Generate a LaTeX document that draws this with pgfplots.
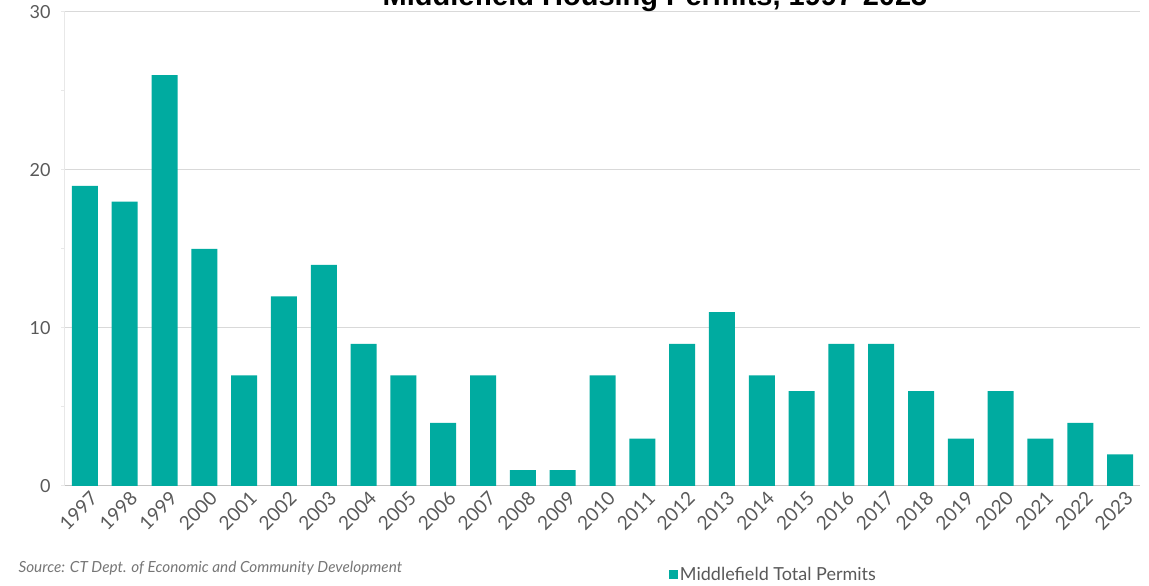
\documentclass[border=0pt]{standalone}
\usepackage{pgfplots}
\pgfplotsset{compat=1.18}
\usepackage{fontspec}
\setmainfont{Lato}
\newfontfamily\titlefont{Liberation Sans}
\definecolor{barc}{RGB}{0,171,160}
\definecolor{tickc}{RGB}{89,89,89}
\definecolor{gridc}{RGB}{217,217,217}
\definecolor{srcc}{RGB}{118,118,118}
\begin{document}
\begin{tikzpicture}[x=1pt,y=1pt]
\useasboundingbox (0,0) rectangle (1149,586);
\begin{axis}[
  at={(65pt,100pt)}, anchor=south west,
  scale only axis, width=1075pt, height=474pt,
  xmin=-0.5, xmax=26.5, ymin=0, ymax=30,
  axis x line*=bottom, axis y line*=left,
  x axis line style={draw=gridc!90!black, line width=1pt, -},
  y axis line style={draw=gridc!60, line width=1pt, -},
  ytick={0,10,20,30}, minor ytick={5,15,25},
  ymajorgrids, grid style={draw=gridc, line width=1pt},
  tick align=outside, major tick length=4pt, minor tick length=4pt,
  ytick style={draw=gridc!60, line width=1pt},
  xtick={0,...,26},
  xticklabels={1997,1998,1999,2000,2001,2002,2003,2004,2005,2006,2007,2008,2009,2010,2011,2012,2013,2014,2015,2016,2017,2018,2019,2020,2021,2022,2023},
  xtick style={draw=none},
  xticklabel style={rotate=45, anchor=north east, font=\fontsize{19}{19}\selectfont, text=tickc, inner sep=2pt, xshift=5pt, yshift=-1pt},
  yticklabel style={font=\fontsize{18}{18}\selectfont, text=tickc, xshift=-7pt},
  /pgf/number format/assume math mode=true,
  ybar, bar width=26pt,
  legend style={at={(0.659,-0.186)}, anchor=center, draw=none, fill=none, font=\fontsize{18}{18}\selectfont, text=tickc, inner sep=0pt},
  legend image code/.code={\fill[barc] (-3pt,-4.5pt) rectangle (6pt,4.5pt);},
]
\addplot[fill=barc, draw=none] coordinates {
(0,19) (1,18) (2,26) (3,15) (4,7) (5,12) (6,14) (7,9) (8,7) (9,4)
(10,7) (11,1) (12,1) (13,7) (14,3) (15,9) (16,11) (17,7) (18,6) (19,9)
(20,9) (21,6) (22,3) (23,6) (24,3) (25,4) (26,2)};
\addlegendentry{Middlefield Total Permits}
\end{axis}
\node[anchor=west, font=\itshape\fontsize{15.3}{15.3}\selectfont, text=srcc] at (15,18) {Source: CT Dept. of Economic and Community Development};
\node[anchor=base, font=\titlefont\bfseries\fontsize{29}{29}\selectfont] at (655,580) {Middlefield Housing Permits, 1997-2023};
\end{tikzpicture}
\end{document}
